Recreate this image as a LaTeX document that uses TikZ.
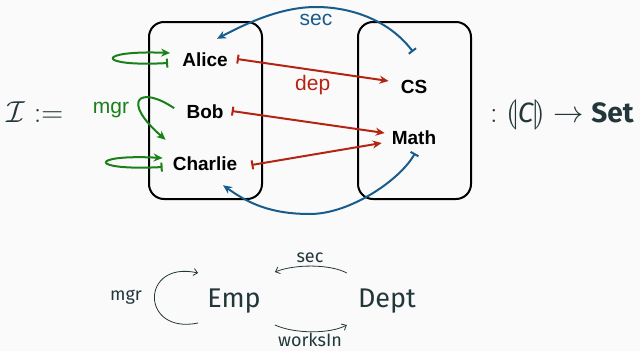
\documentclass[tikz,border=0pt]{standalone}
\usepackage{amsmath}
\usepackage{graphicx}
\usepackage{stmaryrd}
\usepackage{fontspec}
\setsansfont{Fira Sans}
\renewcommand{\familydefault}{\sfdefault}
\newfontfamily\helvfont{Liberation Sans}
\usetikzlibrary{arrows.meta}
\definecolor{fg}{HTML}{23373B}
\definecolor{bg}{HTML}{FAFAFA}
\definecolor{depred}{HTML}{B52412}
\definecolor{secblue}{HTML}{175C8C}
\definecolor{mgrgreen}{HTML}{1A801A}
\tikzset{
  every picture/.style={line join=round, >=Stealth},
  elem/.style={font=\helvfont\bfseries\fontsize{19}{22}\selectfont, text height=14pt, text depth=0pt, inner sep=4pt},
  lbl/.style={font=\helvfont\fontsize{21}{24}\selectfont, inner sep=1pt},
  setbox/.style={draw, line width=2pt, rounded corners=15pt},
  obj/.style={font=\fontsize{27}{32}\selectfont, text=fg, text height=19pt, text depth=5pt, inner sep=4pt},
  small/.style={font=\fontsize{18}{21}\selectfont, text=fg, inner sep=1pt},
  fn/.style={line width=2pt, {Bar[width=9pt]}-{Stealth[length=9pt,width=8pt]}},
  mor/.style={fg, line width=0.8pt, -{Straight Barb[length=4pt,width=7pt]}},
}

\begin{document}
\begin{tikzpicture}[x=1pt,y=-1pt]
\fill[bg] (0,0) rectangle (640,351);
\useasboundingbox (0,0) rectangle (640,351);
% the instance
\node[obj, anchor=base, text height=, text depth=] (interp) at (35,122) {\scalebox{1.22}{$\mathcal{I}:=$}};
\node[obj, font=\fontsize{28}{34}\selectfont, anchor=base, text height=, text depth=] (sig) at (562,122)
  {\scalebox{1.22}{$:\llparenthesis$}{\itshape C}\scalebox{1.22}{$\rrparenthesis\to$} \textbf{Set}};
\node[setbox, minimum width=113pt, minimum height=177pt] (emps) at (205.5,110.5) {};
\node[setbox, minimum width=113pt, minimum height=177pt] (depts) at (414.5,110.5) {};
\node[elem] (alice) at (205,59) {Alice};
\node[elem] (bob) at (205,111) {Bob};
\node[elem] (charlie) at (205,163) {Charlie};
\node[elem] (cs) at (414,86) {CS};
\node[elem] (math) at (414,137) {Math};
% dep
\draw[fn, depred] ([xshift=5pt]alice.east) -- node[lbl, text=depred, below=3pt] {dep} ([xshift=-8pt,yshift=5pt]cs.west);
\draw[fn, depred] ([xshift=4pt]bob.east) -- ([xshift=-3pt,yshift=4pt]math.west);
\draw[fn, depred] ([xshift=10pt,yshift=-2pt]charlie.east) -- ([xshift=-6pt,yshift=-6pt]math.west);
% sec
\draw[fn, secblue] ([xshift=-1pt,yshift=23pt]cs.north) .. controls (389,20) and (351,7) .. (316,7)
  .. controls (281,7) and (247,23) .. ([xshift=12pt,yshift=9pt]alice.north);
\node[lbl, text=secblue] (seclbl) at (316,20) {sec};
\draw[fn, secblue] ([xshift=1pt,yshift=-5pt]math.south) .. controls (400,180) and (350,214) .. (310,214)
  .. controls (270,214) and (248,203) .. ([xshift=18pt,yshift=-11pt]charlie.south);
% mgr
\draw[fn, mgrgreen] ([xshift=-10pt,yshift=-4pt]alice.west) .. controls (95,67) and (95,50) .. ([xshift=-8pt,yshift=6pt]alice.west);
\draw[fn, mgrgreen] ([xshift=-6pt,yshift=-4pt]charlie.west) .. controls (88,171) and (88,154) .. ([xshift=-6pt,yshift=5pt]charlie.west);
\draw[fn, mgrgreen, {Bar[width=0pt]}-{Stealth[length=9pt,width=8pt]}] ([xshift=-7pt,yshift=2pt]bob.west) .. controls (140,85) and (120,100) .. ([xshift=-3pt,yshift=12pt]charlie.north west);
\node[lbl, text=mgrgreen] (mgrlbl) at (111,110) {mgr};

% the schema
\node[obj] (emp) at (234,300) {Emp};
\node[obj] (dept) at (387,300) {Dept};
\draw[mor] ([xshift=-5pt,yshift=-23pt]emp.west) .. controls (140,335) and (140,260) .. ([xshift=-5pt,yshift=27pt]emp.west);
\node[small] (mgr) at (126,297) {mgr};
\draw[mor] ([xshift=-7pt,yshift=27pt]dept.west) .. controls (330,264) and (295,264) .. ([xshift=10pt,yshift=28pt]emp.east);
\node[small] (sec) at (310,258) {sec};
\draw[mor] ([xshift=10pt,yshift=-25pt]emp.east) .. controls (295,334) and (330,334) .. ([xshift=-7pt,yshift=-25pt]dept.west);
\node[small] (worksin) at (310,340) {worksIn};
\end{tikzpicture}
\end{document}
